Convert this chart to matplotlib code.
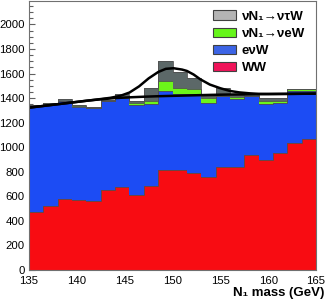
import matplotlib
matplotlib.use('Agg')
import matplotlib.pyplot as plt
from matplotlib.patches import Patch
from matplotlib.ticker import MultipleLocator
import numpy as np

plt.rcParams['font.family'] = ['Liberation Sans', 'DejaVu Sans']

# Bins: 20 bins of 1.5 GeV from 135 to 165
edges = [135 + 1.5 * i for i in range(21)]

# Stacked components (events per bin), bottom to top
ww = [472, 518, 578, 567, 564, 649, 675, 608, 681, 818,
      818, 790, 758, 840, 840, 940, 899, 950, 1036, 1066]
enu_w = [868, 837, 796, 763, 752, 727, 723, 736, 668, 637,
         613, 641, 605, 577, 550, 477, 450, 407, 419, 389]
nuN_nue = [2, 2, 2, 2, 2, 4, 12, 16, 27, 80,
           49, 41, 41, 3, 22, 3, 27, 19, 15, 15]
nuN_nutau = [3, 3, 20, 9, 7, 5, 27, 14, 109, 165,
             135, 93, 11, 60, 13, 11, 24, 24, 2, 2]

# Fit curves
bkg_x = [135, 136.5, 138, 139.5, 141, 142.5, 144, 145.5, 147, 148.5,
         150, 152, 154, 156, 158, 160, 162, 165]
bkg_y = [1322, 1336, 1350, 1364, 1378, 1390, 1400, 1406, 1411, 1415,
         1418, 1422, 1426, 1429, 1431, 1433, 1434, 1436]
sig_x = [135, 138, 141, 142.5, 143.5, 144.5, 145.5, 146.5, 147.5, 148.5,
         149.3, 150.1, 151, 151.5, 152.2, 152.9, 153.9, 155, 156, 157,
         158, 159, 160, 162, 165]
sig_y = [1322, 1350, 1378, 1392, 1402, 1417, 1445, 1495, 1560, 1612,
         1638, 1643, 1632, 1621, 1592, 1553, 1510, 1480, 1458, 1446,
         1439, 1434, 1433, 1434, 1436]

labels = ['\u03bdN\u2081\u2192\u03bd\u03c4W', '\u03bdN\u2081\u2192\u03bdeW',
          'e\u03bdW', 'WW']

fig = plt.figure(figsize=(3.27, 3.06), dpi=100)
ax = fig.add_axes([0.0887, 0.1176, 0.8777, 0.879])

layers = [ww, enu_w, nuN_nue, nuN_nutau]
colors = ['#f80c12', '#1c4cf4', '#6cf51a', '#5c6868']
bottom = np.zeros(20)
for vals, col in zip(layers, colors):
    top = bottom + np.array(vals)
    ax.stairs(top, edges, baseline=bottom, fill=True, color=col, lw=0)
    ax.stairs(top, edges, color='#505050', lw=0.6)
    bottom = top

ax.plot(bkg_x, bkg_y, color='black', lw=1.8)
ax.plot(sig_x, sig_y, color='black', lw=1.8)

ax.set_xlim(135, 165)
ax.set_ylim(0, 2190)
ax.set_axisbelow(True)
ax.yaxis.set_major_locator(MultipleLocator(200))
ax.yaxis.set_minor_locator(MultipleLocator(50))
ax.xaxis.set_major_locator(MultipleLocator(5))
ax.tick_params(axis='y', which='major', direction='in', length=4.5,
               width=0.8, color='#606060', labelsize=8.2, pad=3)
ax.tick_params(axis='y', which='minor', direction='in', length=3,
               width=0.8, color='#606060')
ax.tick_params(axis='x', direction='in', length=0, labelsize=8.2, pad=4)
for sp in ax.spines.values():
    sp.set_color('#707070')
    sp.set_linewidth(0.8)

ax.set_xlabel('N\u2081 mass (GeV)', fontsize=9.5, fontweight='bold',
              ha='right', x=1.03, labelpad=1)

handles = [Patch(facecolor=c, edgecolor='#404040', lw=0.8)
           for c in ['#b4b4b4', '#66f51a', '#3c64e6', '#f0145a']]
ax.legend(handles, labels, loc='upper left', bbox_to_anchor=(0.61, 1.0),
          frameon=False, prop={'weight': 'bold', 'size': 9.5},
          handlelength=1.7, handleheight=0.7, handletextpad=0.45,
          labelspacing=0.38, borderaxespad=0.3)

fig.savefig('out.png', dpi=100)
